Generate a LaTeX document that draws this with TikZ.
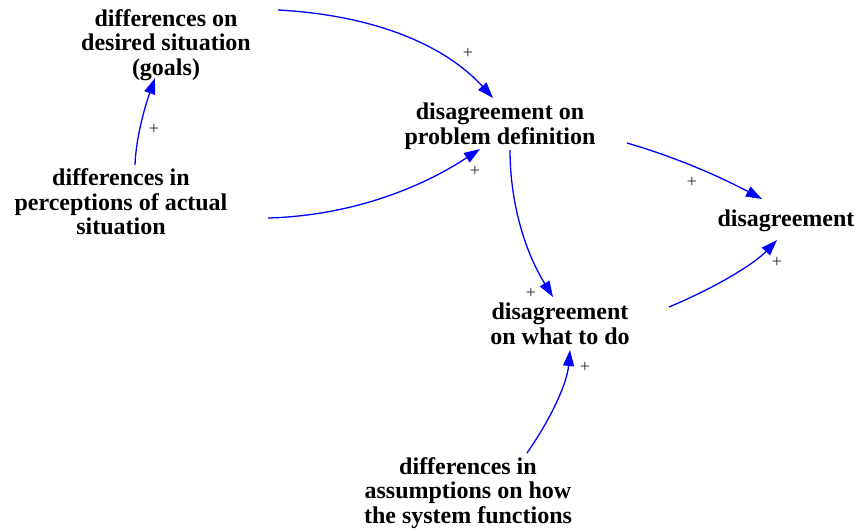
\documentclass[tikz,border=0pt]{standalone}
\usepackage{fontspec}
\setmainfont{Liberation Serif}
\usetikzlibrary{arrows.meta}
\tikzset{
  var/.style={font=\fontsize{24}{24.5}\selectfont\bfseries, align=center, inner sep=0pt},
  link/.style={draw={rgb,255:red,0;green,0;blue,255}, line width=1.3pt, -{Triangle[length=16pt,width=11pt]}},
  pol/.style={font=\fontsize{18}{18}\selectfont, text={rgb,255:red,40;green,40;blue,40}, inner sep=0pt}
}
\begin{document}
\begin{tikzpicture}[x=1pt,y=-1pt]
\useasboundingbox (0,0) rectangle (858,531);
\node[var] (goals) at (166,45) {differences on\\desired situation\\(goals)};
\node[var] (perc) at (121,202) {differences in\\perceptions of actual\\situation};
\node[var] (prob) at (500,126) {disagreement on\\problem definition};
\node[var] (dis) at (786,221) {disagreement};
\node[var] (what) at (560,324) {disagreement\\on what to do};
\node[var] (assum) at (468,493) {differences in\\assumptions on how\\the system functions};

\draw[link] ([shift={(112,-35)}]goals.center) .. controls +(94,5) and +(-49,-54) .. ([shift={(-7,-28)}]prob.center);
\draw[link] ([shift={(14,-37)}]perc.center) .. controls +(0.7,-22) and +(-12.7,36) .. ([shift={(-11,33)}]goals.center);
\draw[link] ([shift={(147,16)}]perc.center) .. controls +(74,-2) and +(-67,44) .. ([shift={(-20,23)}]prob.center);
\draw[link] ([shift={(10,24)}]prob.center) .. controls +(0,51) and +(-29,-47) .. ([shift={(-7,-27)}]what.center);
\draw[link] ([shift={(127,17)}]prob.center) .. controls +(45,13) and +(-45,-24) .. ([shift={(-24,-22)}]dis.center);
\draw[link] ([shift={(109,-17)}]what.center) .. controls +(50,-21) and +(-22,23) .. ([shift={(-9,19)}]dis.center);
\draw[link] ([shift={(59,-40)}]assum.center) .. controls +(25,-36) and +(-3,33) .. ([shift={(10,26)}]what.center);

\node[pol] (p1) at (468,53) {+};
\node[pol] (p2) at (154,129) {+};
\node[pol] (p3) at (475,171) {+};
\node[pol] (p4) at (531,293) {+};
\node[pol] (p5) at (692,182) {+};
\node[pol] (p6) at (777,262) {+};
\node[pol] (p7) at (585,367) {+};
\end{tikzpicture}
\end{document}
